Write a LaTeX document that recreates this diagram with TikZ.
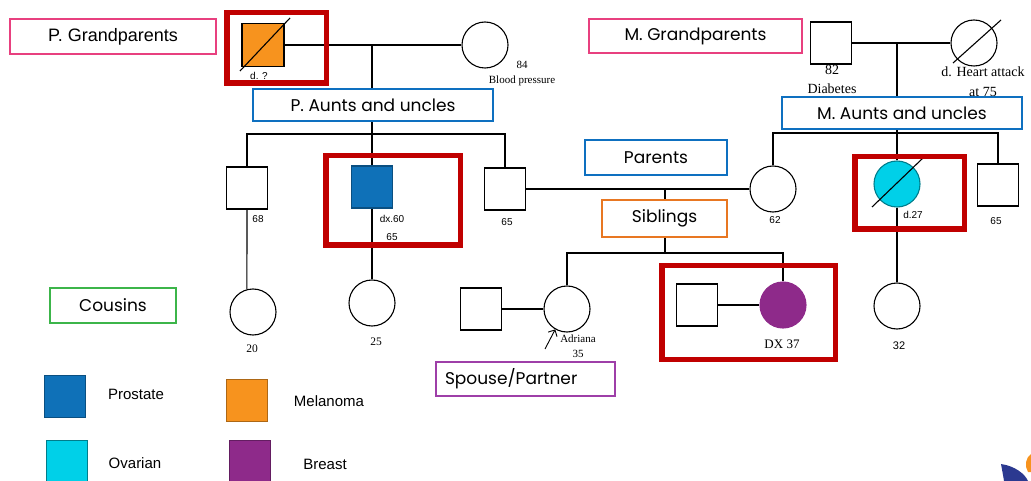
\documentclass[tikz,border=0pt]{standalone}
\usepackage{fontspec}
\setmainfont{Liberation Serif}
\newfontfamily\arial{Liberation Sans}
\newfontfamily\gothic{Poppins}
\usetikzlibrary{arrows.meta}

\definecolor{alertred}{HTML}{C00000}
\definecolor{tagpink}{HTML}{E8407F}
\definecolor{tagblue}{HTML}{0E70C0}
\definecolor{tagorange}{HTML}{E87722}
\definecolor{taggreen}{HTML}{3CB54A}
\definecolor{tagpurple}{HTML}{9E3FA8}
\definecolor{prostate}{HTML}{0F71B8}
\definecolor{melanoma}{HTML}{F7931E}
\definecolor{ovarian}{HTML}{00D0E8}
\definecolor{breast}{HTML}{8E2A8A}
\definecolor{logoblue}{HTML}{2B3990}

\begin{document}
\begin{tikzpicture}[x=1pt,y=-1pt,line width=1.1]
   \tikzstyle{male}=[draw, rectangle, minimum width=41, minimum height=42, inner sep=0]
   \tikzstyle{female}=[draw, circle, minimum size=46, inner sep=0]
   \tikzstyle{tag}=[draw, line width=2.8, fill=white, minimum height=34, inner sep=0, font=\gothic\fontsize{17}{19}\selectfont]
   \tikzstyle{alert}=[draw=alertred, line width=5.5]
   \tikzstyle{key}=[draw, rectangle, minimum width=41, minimum height=42, inner sep=0, line width=0.6]
   \tikzstyle{keytext}=[font=\arial\fontsize{15}{17}\selectfont]
   \tikzstyle{sans}=[font=\arial\fontsize{10}{18}\selectfont, align=center, inner sep=0]
   \tikzstyle{serif}=[font=\fontsize{11.5}{15}\selectfont, align=center, inner sep=0]

\useasboundingbox (0,0) rectangle (1031,481);
\clip (0,0) rectangle (1031,481);

% paternal side
\node[male, fill=melanoma, minimum width=42, minimum height=43] (pgf) at (263,45) {};
\node[female] (pgm) at (485,45) {};
\draw (pgf.center) ++(-23,26) -- ++(50,-53);
\node[sans] (pgfd) at (259,76) {d. ?};
\node[serif, font=\fontsize{11}{15}\selectfont] (pgmd) at (522,73.5) {84\\Blood pressure};
\coordinate (pdrop) at (372,45);
\coordinate (psib) at (372,134);
\draw (pgf) -- (pgm);

\node[male] (pu1) at (247,188) {};
\node[male, fill=prostate, draw=prostate!70!black] (pu2) at (372,187) {};
\node[male] (pu3) at (505,189) {};
\draw (pu1.north) |- (psib) -| (pu3.north);
\draw (pdrop) -- (pu2.north);
\node[sans] (pu1d) at (258,219) {68};
\node[sans] (pu2d) at (392,228) {dx.60\\65};
\node[sans] (pu3d) at (507,222) {65};

\node[female] (c20) at (253,312) {};
\node[female] (c25) at (372,303) {};
\draw (pu1.south) -- (c20.105);
\draw (pu2.south) -- (c25.north);
\node[serif] (c20d) at (252,349) {20};
\node[serif] (c25d) at (376,342) {25};

% parents and siblings
\node[female] (mom) at (773,189) {};
\draw (pu3) -- (mom);
\node[sans] (momd) at (775,220) {62};
\coordinate (pardrop) at (665,189);
\coordinate (ssib) at (665,253);
\draw (pardrop) -- (ssib);

\node[female] (adr) at (567,309) {};
\node[male] (sp1) at (481,309) {};
\node[female, fill=breast, draw=breast] (sis) at (783,305) {};
\node[male] (sp2) at (697,305) {};
\draw (adr.north) |- (ssib) -| (sis.north);
\draw (sp1) -- (adr);
\draw (sp2) -- (sis);
\coordinate (proband) at (545,349);
\draw[-{Straight Barb[length=5pt]}, line width=0.9] (proband) -- (adr.240);
\node[serif, font=\fontsize{11}{15}\selectfont] (adrd) at (578,346.5) {Adriana\\35};
\node[serif, font=\fontsize{13}{15}\selectfont] (sisd) at (782,344) {DX 37};

% maternal side
\node[male] (mgf) at (831,43) {};
\node[female] (mgm) at (974,43) {};
\draw (mgm.center) ++(-21,20) -- ++(48,-43);
\draw (mgf) -- (mgm);
\node[serif, font=\fontsize{14}{19}\selectfont] (mgfd) at (832,79.5) {82\\Diabetes};
\node[serif, font=\fontsize{14}{20}\selectfont] (mgmd) at (983,82) {d. Heart attack\\at 75};
\coordinate (mdrop) at (897,43);
\coordinate (msib) at (897,133);

\node[female, fill=ovarian, draw=ovarian!60!black] (maunt) at (897,184) {};
\node[male] (mu3) at (998,185) {};
\draw (mom.north) |- (msib) -| (mu3.north);
\draw (mdrop) -- (maunt.north);
\draw (maunt.center) ++(-25,23) -- ++(51,-49);
\node[sans] (mauntd) at (913,215) {d.27};
\node[sans] (mu3d) at (996,221) {65};

\node[female] (c32) at (897,306) {};
\draw (maunt.south) -- (c32.north);
\node[sans, font=\arial\fontsize{11}{13}\selectfont] (c32d) at (899,346) {32};

% highlights
\draw[alert] (226.75,12.75) rectangle (326.25,83.25);
\draw[alert] (325.75,155.75) rectangle (460.25,245.25);
\draw[alert] (661.75,265.75) rectangle (835.25,359.25);
\draw[alert] (854.75,156.75) rectangle (964.25,229.25);

% generation tags
\node[tag, draw=tagpink, minimum width=206, minimum height=35, font=\arial\fontsize{18}{20}\selectfont] (tpg) at (113,36.5) {P. Grandparents};
\node[tag, draw=tagpink, minimum width=213] (tmg) at (695.5,36) {M. Grandparents};
\node[tag, draw=tagblue, minimum width=240, minimum height=32] (tpa) at (373,105) {P. Aunts and uncles};
\node[tag, draw=tagblue, minimum width=240, minimum height=32] (tma) at (902,113) {M. Aunts and uncles};
\node[tag, draw=tagblue, minimum width=142, minimum height=35] (tpar) at (656,157.5) {Parents};
\node[tag, draw=tagorange, minimum width=125, minimum height=37] (tsib) at (664.5,218.5) {Siblings};
\node[tag, draw=taggreen, minimum width=126, minimum height=35] (tcou) at (113,305.5) {Cousins};
\node[tag, draw=tagpurple, text width=161, align=left, inner xsep=9] (tsp) at (525.5,379) {Spouse/Partner};

% legend
\node[key, fill=prostate, draw=prostate!70!black] (kp) at (65,396.5) {};
\node[keytext] (kpt) at (136,394) {Prostate};
\node[key, fill=melanoma, draw=melanoma!70!black] (km) at (246.5,400.5) {};
\node[keytext] (kmt) at (329,401) {Melanoma};
\node[key, fill=ovarian, draw=ovarian!60!black] (ko) at (66.5,461) {};
\node[keytext] (kot) at (135,463) {Ovarian};
\node[key, fill=breast, draw=breast!70!black] (kb) at (250,461) {};
\node[keytext] (kbt) at (325,464) {Breast};

% logo corner
\fill[logoblue] (1001,464) .. controls (1015,466) and (1025,474) .. (1028,481) -- (1004,481) .. controls (1003,475) .. (1001,464);
\fill[melanoma] (1031,454) .. controls (1026,457) and (1024,466) .. (1028,472) -- (1031,472) -- cycle;

\end{tikzpicture}
\end{document}
